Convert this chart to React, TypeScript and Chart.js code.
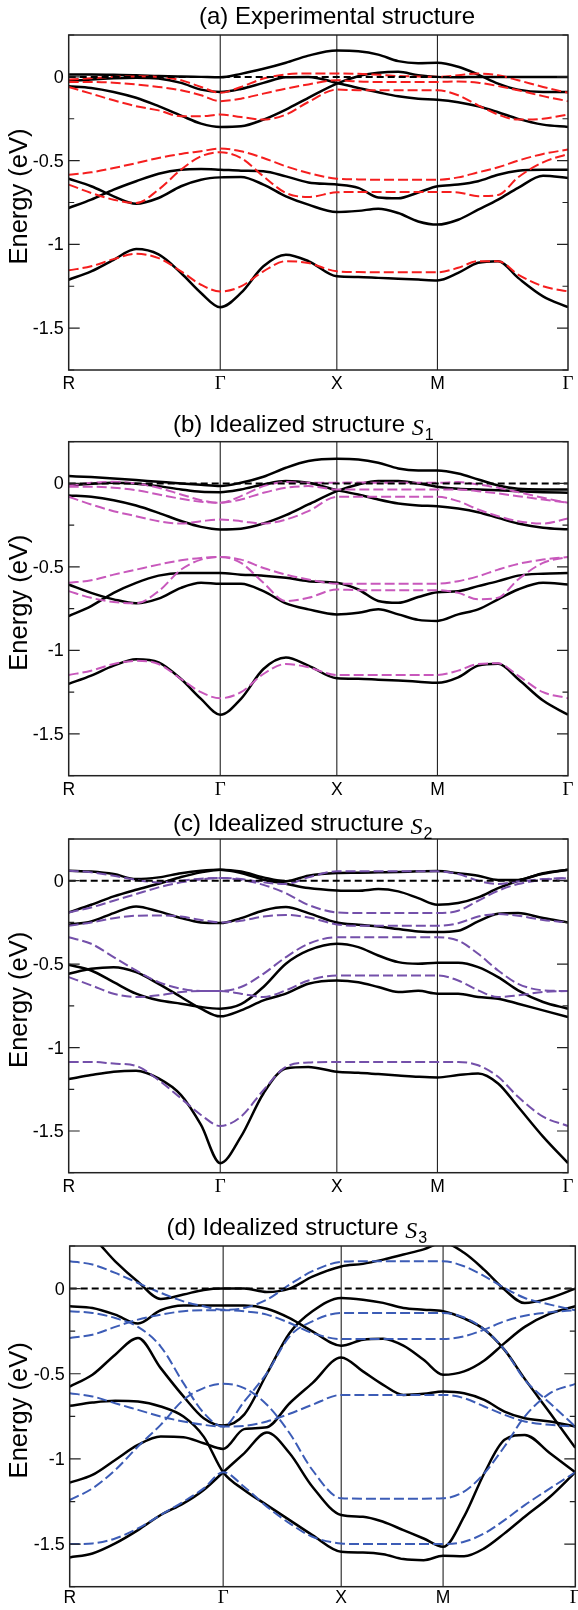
import React, { useEffect, useRef } from "react";
import { Chart, registerables } from "chart.js";
Chart.register(...registerables);

// k-path sample positions (fraction of path length) and high-symmetry points
const K = [0, 0.045, 0.09, 0.135, 0.18, 0.225, 0.265, 0.3035, 0.345, 0.39, 0.435, 0.48, 0.537, 0.58, 0.62, 0.66, 0.70, 0.7385, 0.78, 0.82, 0.86, 0.90, 0.95, 1.0];
const K_TICKS = [0, 0.3035, 0.537, 0.7385, 1];
const K_LABELS = ["R", "Γ", "X", "M", "Γ"];
const Y_MAJOR = [0, -0.5, -1, -1.5];
const Y_LABELS = ["0", "-0.5", "-1", "-1.5"];
const Y_MINOR = [0.25, -0.25, -0.75, -1.25, -1.75];
const FERMI_X = [0, 1];
const FERMI_Y = [0, 0];

// (a) Experimental structure
const A_BLK1 = [0.014, 0.014, 0.012, 0.01, 0.005, 0.002, 0.0, -0.002, 0.018, 0.048, 0.084, 0.127, 0.157, 0.153, 0.133, 0.094, 0.082, 0.084, 0.06, 0.014, -0.04, -0.076, -0.09, -0.09];
const A_BLK2 = [-0.025, -0.015, -0.008, -0.005, -0.01, -0.036, -0.076, -0.09, -0.072, -0.036, -0.002, 0.0, -0.036, -0.066, -0.092, -0.116, -0.13, -0.136, -0.151, -0.175, -0.211, -0.251, -0.285, -0.299];
const A_BLK3 = [-0.056, -0.066, -0.09, -0.125, -0.175, -0.231, -0.279, -0.299, -0.295, -0.255, -0.195, -0.125, -0.04, 0.004, 0.024, 0.03, 0.01, 0.0, -0.002, 0.0, 0.0, 0.0, 0.0, 0.0];
const A_BLK4 = [-0.608, -0.653, -0.713, -0.757, -0.723, -0.653, -0.614, -0.6, -0.598, -0.643, -0.713, -0.763, -0.807, -0.8, -0.787, -0.813, -0.863, -0.882, -0.853, -0.793, -0.733, -0.663, -0.59, -0.604];
const A_BLK5 = [-0.783, -0.733, -0.673, -0.623, -0.578, -0.554, -0.55, -0.554, -0.56, -0.564, -0.594, -0.63, -0.643, -0.663, -0.72, -0.725, -0.69, -0.653, -0.643, -0.623, -0.584, -0.56, -0.554, -0.554];
const A_BLK6 = [-1.211, -1.161, -1.092, -1.028, -1.06, -1.171, -1.29, -1.375, -1.29, -1.131, -1.062, -1.1, -1.191, -1.195, -1.2, -1.205, -1.21, -1.215, -1.17, -1.11, -1.1, -1.2, -1.31, -1.375];
const A_DFT1 = [-0.016, -0.008, 0.0, 0.003, 0.0, -0.02, -0.06, -0.095, -0.06, -0.01, 0.015, 0.02, 0.02, 0.018, 0.012, 0.005, 0.002, 0.0, 0.01, 0.02, 0.01, -0.02, -0.06, -0.095];
const A_DFT2 = [-0.03, -0.03, -0.035, -0.045, -0.06, -0.08, -0.11, -0.145, -0.13, -0.1, -0.07, -0.045, -0.02, -0.028, -0.03, -0.03, -0.03, -0.03, -0.028, -0.035, -0.055, -0.08, -0.115, -0.145];
const A_DFT3 = [-0.06, -0.1, -0.14, -0.175, -0.2, -0.235, -0.235, -0.225, -0.24, -0.255, -0.225, -0.15, -0.076, -0.08, -0.08, -0.08, -0.08, -0.08, -0.11, -0.17, -0.225, -0.255, -0.25, -0.225];
const A_DFT4 = [-0.584, -0.57, -0.544, -0.515, -0.484, -0.46, -0.444, -0.428, -0.444, -0.484, -0.534, -0.574, -0.608, -0.612, -0.614, -0.614, -0.614, -0.614, -0.6, -0.57, -0.54, -0.5, -0.46, -0.434];
const A_DFT5 = [-0.643, -0.693, -0.733, -0.753, -0.673, -0.554, -0.474, -0.45, -0.484, -0.594, -0.693, -0.717, -0.689, -0.687, -0.687, -0.687, -0.687, -0.687, -0.69, -0.712, -0.705, -0.6, -0.51, -0.46];
const A_DFT6 = [-1.155, -1.131, -1.088, -1.056, -1.082, -1.161, -1.241, -1.281, -1.251, -1.161, -1.1, -1.111, -1.161, -1.165, -1.167, -1.167, -1.167, -1.167, -1.14, -1.1, -1.1, -1.18, -1.25, -1.281];

// (b) Idealized structure S1
const B_BLK1 = [0.044, 0.038, 0.03, 0.02, 0.01, 0.0, -0.008, -0.015, 0.004, 0.04, 0.094, 0.134, 0.148, 0.144, 0.124, 0.09, 0.078, 0.078, 0.06, 0.024, -0.012, -0.032, -0.036, -0.036];
const B_BLK2 = [-0.012, -0.002, 0.004, -0.002, -0.016, -0.036, -0.05, -0.052, -0.036, -0.006, 0.014, 0.004, -0.04, -0.066, -0.096, -0.12, -0.132, -0.136, -0.15, -0.172, -0.206, -0.24, -0.265, -0.275];
const B_BLK3 = [-0.072, -0.08, -0.1, -0.132, -0.176, -0.225, -0.26, -0.275, -0.271, -0.24, -0.19, -0.126, -0.046, -0.006, 0.014, 0.014, 0.0, -0.02, -0.032, -0.036, -0.04, -0.046, -0.052, -0.056];
const B_BLK4 = [-0.605, -0.655, -0.694, -0.718, -0.69, -0.625, -0.595, -0.601, -0.6, -0.645, -0.718, -0.754, -0.784, -0.774, -0.754, -0.784, -0.817, -0.823, -0.784, -0.754, -0.694, -0.635, -0.595, -0.605];
const B_BLK5 = [-0.794, -0.734, -0.655, -0.595, -0.552, -0.536, -0.536, -0.536, -0.546, -0.552, -0.565, -0.585, -0.595, -0.635, -0.704, -0.715, -0.68, -0.651, -0.645, -0.615, -0.585, -0.552, -0.54, -0.536];
const B_BLK6 = [-1.2, -1.151, -1.091, -1.052, -1.071, -1.171, -1.29, -1.385, -1.29, -1.111, -1.042, -1.091, -1.167, -1.17, -1.175, -1.18, -1.187, -1.194, -1.161, -1.091, -1.08, -1.171, -1.3, -1.385];
const B_DFT1 = [-0.012, 0.004, 0.01, 0.0, -0.026, -0.066, -0.1, -0.116, -0.076, -0.016, 0.008, 0.004, 0.004, 0.006, 0.004, 0.004, 0.004, 0.004, 0.008, -0.006, -0.026, -0.052, -0.086, -0.116];
const B_DFT2 = [-0.02, -0.02, -0.026, -0.04, -0.066, -0.092, -0.11, -0.116, -0.096, -0.056, -0.026, -0.016, -0.036, -0.036, -0.036, -0.036, -0.036, -0.036, -0.036, -0.046, -0.06, -0.076, -0.096, -0.116];
const B_DFT3 = [-0.08, -0.126, -0.166, -0.196, -0.226, -0.24, -0.226, -0.216, -0.226, -0.24, -0.216, -0.166, -0.08, -0.08, -0.08, -0.08, -0.08, -0.08, -0.106, -0.156, -0.196, -0.226, -0.24, -0.21];
const B_DFT4 = [-0.595, -0.58, -0.546, -0.516, -0.486, -0.46, -0.446, -0.44, -0.456, -0.506, -0.546, -0.575, -0.6, -0.6, -0.6, -0.6, -0.6, -0.6, -0.585, -0.556, -0.516, -0.482, -0.456, -0.44];
const B_DFT5 = [-0.645, -0.685, -0.71, -0.718, -0.645, -0.516, -0.456, -0.44, -0.476, -0.595, -0.704, -0.685, -0.635, -0.639, -0.639, -0.639, -0.639, -0.639, -0.655, -0.694, -0.685, -0.575, -0.476, -0.44];
const B_DFT6 = [-1.147, -1.121, -1.081, -1.062, -1.081, -1.171, -1.25, -1.286, -1.25, -1.141, -1.081, -1.101, -1.147, -1.147, -1.147, -1.147, -1.147, -1.147, -1.121, -1.081, -1.077, -1.151, -1.25, -1.286];

// (c) Idealized structure S2
const C_BLK1 = [0.06, 0.055, 0.04, 0.01, 0.02, 0.045, 0.06, 0.066, 0.046, 0.006, -0.018, -0.044, -0.058, -0.06, -0.05, -0.064, -0.104, -0.144, -0.134, -0.1, -0.045, 0.0, 0.042, 0.066];
const C_BLK2 = [-0.19, -0.144, -0.094, -0.054, -0.018, 0.022, 0.05, 0.066, 0.055, 0.02, -0.003, 0.03, 0.046, 0.048, 0.05, 0.052, 0.056, 0.058, 0.045, 0.03, 0.005, 0.005, 0.045, 0.066];
const C_BLK3 = [-0.264, -0.244, -0.194, -0.154, -0.184, -0.224, -0.25, -0.254, -0.224, -0.178, -0.158, -0.194, -0.25, -0.264, -0.274, -0.29, -0.304, -0.308, -0.3, -0.244, -0.198, -0.194, -0.224, -0.25];
const C_BLK4 = [-0.504, -0.538, -0.608, -0.677, -0.717, -0.737, -0.757, -0.767, -0.74, -0.637, -0.498, -0.418, -0.378, -0.398, -0.448, -0.488, -0.498, -0.492, -0.492, -0.518, -0.578, -0.657, -0.727, -0.767];
const C_BLK5 = [-0.558, -0.528, -0.518, -0.548, -0.618, -0.697, -0.767, -0.813, -0.777, -0.717, -0.677, -0.618, -0.598, -0.608, -0.637, -0.667, -0.66, -0.677, -0.677, -0.697, -0.707, -0.737, -0.777, -0.817];
const C_BLK6 = [-1.189, -1.165, -1.145, -1.139, -1.185, -1.285, -1.464, -1.693, -1.534, -1.275, -1.125, -1.116, -1.145, -1.151, -1.159, -1.167, -1.175, -1.179, -1.165, -1.155, -1.215, -1.355, -1.534, -1.693];
const C_DFT1 = [0.06, 0.05, 0.03, 0.005, -0.01, 0.0, 0.012, 0.016, 0.01, -0.01, -0.02, 0.02, 0.056, 0.056, 0.056, 0.056, 0.056, 0.056, 0.04, 0.0, -0.02, -0.005, 0.01, 0.016];
const C_DFT2 = [-0.19, -0.16, -0.12, -0.08, -0.04, -0.01, 0.008, 0.016, 0.005, -0.025, -0.075, -0.145, -0.19, -0.194, -0.194, -0.194, -0.194, -0.194, -0.18, -0.12, -0.06, -0.02, 0.005, 0.016];
const C_DFT3 = [-0.27, -0.25, -0.225, -0.21, -0.208, -0.215, -0.235, -0.25, -0.24, -0.215, -0.205, -0.22, -0.262, -0.27, -0.27, -0.27, -0.27, -0.27, -0.255, -0.215, -0.2, -0.21, -0.235, -0.25];
const C_DFT4 = [-0.339, -0.378, -0.458, -0.538, -0.608, -0.647, -0.661, -0.661, -0.637, -0.558, -0.458, -0.378, -0.339, -0.339, -0.339, -0.339, -0.339, -0.339, -0.359, -0.438, -0.538, -0.618, -0.657, -0.661];
const C_DFT5 = [-0.578, -0.627, -0.677, -0.697, -0.687, -0.667, -0.661, -0.661, -0.677, -0.697, -0.657, -0.598, -0.568, -0.568, -0.568, -0.568, -0.568, -0.568, -0.598, -0.657, -0.697, -0.687, -0.667, -0.661];
const C_DFT6 = [-1.086, -1.086, -1.096, -1.11, -1.195, -1.305, -1.404, -1.47, -1.414, -1.255, -1.116, -1.09, -1.086, -1.086, -1.086, -1.086, -1.086, -1.086, -1.086, -1.106, -1.175, -1.295, -1.414, -1.47];

// (d) Idealized structure S3
const D_BLK1 = [0.37, 0.3, 0.16, 0.04, -0.061, -0.035, -0.008, 0.0, 0.0, -0.02, 0.0, 0.07, 0.13, 0.145, 0.17, 0.2, 0.23, 0.27, 0.21, 0.11, -0.006, -0.085, -0.055, 0.0];
const D_BLK2 = [-0.104, -0.114, -0.153, -0.205, -0.127, -0.1, -0.1, -0.1, -0.1, -0.118, -0.173, -0.251, -0.335, -0.3, -0.294, -0.335, -0.418, -0.506, -0.486, -0.422, -0.32, -0.225, -0.147, -0.104];
const D_BLK3 = [-0.575, -0.506, -0.388, -0.29, -0.467, -0.633, -0.761, -0.804, -0.74, -0.5, -0.261, -0.133, -0.055, -0.065, -0.084, -0.114, -0.124, -0.133, -0.175, -0.24, -0.36, -0.53, -0.73, -0.935];
const D_BLK4 = [-0.688, -0.669, -0.659, -0.663, -0.692, -0.751, -0.869, -1.078, -1.182, -1.271, -1.359, -1.447, -1.545, -1.549, -1.559, -1.588, -1.594, -1.569, -1.571, -1.525, -1.437, -1.339, -1.222, -1.078];
const D_BLK5 = [-1.139, -1.094, -1.006, -0.918, -0.869, -0.873, -0.908, -0.941, -0.825, -0.814, -0.673, -0.555, -0.404, -0.486, -0.565, -0.624, -0.618, -0.604, -0.614, -0.653, -0.722, -0.761, -0.78, -0.81];
const D_BLK6 = [-1.578, -1.555, -1.496, -1.418, -1.329, -1.261, -1.182, -1.078, -0.967, -0.845, -0.967, -1.163, -1.329, -1.339, -1.369, -1.418, -1.467, -1.516, -1.339, -1.084, -0.888, -0.859, -0.967, -1.078];
const D_DFT1 = [0.161, 0.141, 0.092, 0.033, -0.025, -0.075, -0.104, -0.124, -0.114, -0.065, 0.024, 0.102, 0.157, 0.161, 0.161, 0.161, 0.161, 0.161, 0.131, 0.073, 0.004, -0.055, -0.094, -0.127];
const D_DFT2 = [-0.133, -0.143, -0.173, -0.225, -0.34, -0.555, -0.73, -0.81, -0.663, -0.496, -0.28, -0.192, -0.143, -0.143, -0.143, -0.143, -0.143, -0.143, -0.17, -0.24, -0.359, -0.535, -0.673, -0.81];
const D_DFT3 = [-0.29, -0.271, -0.225, -0.182, -0.153, -0.133, -0.127, -0.127, -0.133, -0.153, -0.202, -0.261, -0.296, -0.296, -0.296, -0.296, -0.296, -0.296, -0.28, -0.241, -0.192, -0.159, -0.139, -0.127];
const D_DFT4 = [-1.241, -1.173, -1.065, -0.927, -0.8, -0.653, -0.584, -0.559, -0.584, -0.682, -0.849, -1.065, -1.231, -1.233, -1.233, -1.233, -1.233, -1.231, -1.192, -1.084, -0.927, -0.751, -0.614, -0.559];
const D_DFT5 = [-0.614, -0.633, -0.673, -0.712, -0.751, -0.78, -0.8, -0.81, -0.806, -0.78, -0.735, -0.682, -0.624, -0.624, -0.624, -0.624, -0.624, -0.624, -0.643, -0.692, -0.741, -0.78, -0.8, -0.81];
const D_DFT6 = [-1.5, -1.496, -1.467, -1.408, -1.329, -1.251, -1.173, -1.078, -1.163, -1.28, -1.378, -1.457, -1.496, -1.5, -1.5, -1.5, -1.5, -1.5, -1.486, -1.437, -1.359, -1.271, -1.173, -1.078];

const FONT = '"Liberation Sans", Arial, Helvetica, sans-serif';
const SERIF = '"Liberation Serif", "Times New Roman", serif';

const PANELS = [
  { title: "(a) Experimental structure", sub: "", color: "rgb(245,30,30)",
    black: [A_BLK1, A_BLK2, A_BLK3, A_BLK4, A_BLK5, A_BLK6], dft: [A_DFT1, A_DFT2, A_DFT3, A_DFT4, A_DFT5, A_DFT6],
    top: 0, height: 400, pad: { left: 68.7, right: 10, top: 35, bottom: 30 }, titleX: 199, titleY: 24, xLabGap: 19 },
  { title: "(b) Idealized structure ", sub: "1", color: "rgb(200,88,188)",
    black: [B_BLK1, B_BLK2, B_BLK3, B_BLK4, B_BLK5, B_BLK6], dft: [B_DFT1, B_DFT2, B_DFT3, B_DFT4, B_DFT5, B_DFT6],
    top: 400, height: 400, pad: { left: 68.7, right: 10, top: 41.7, bottom: 24.3 }, titleX: 173, titleY: 31.5, xLabGap: 19 },
  { title: "(c) Idealized structure ", sub: "2", color: "rgb(116,80,170)",
    black: [C_BLK1, C_BLK2, C_BLK3, C_BLK4, C_BLK5, C_BLK6], dft: [C_DFT1, C_DFT2, C_DFT3, C_DFT4, C_DFT5, C_DFT6],
    top: 800, height: 400, pad: { left: 68.7, right: 10, top: 39, bottom: 27.3 }, titleX: 173, titleY: 30.5, xLabGap: 19 },
  { title: "(d) Idealized structure ", sub: "3", color: "rgb(60,92,182)",
    black: [D_BLK1, D_BLK2, D_BLK3, D_BLK4, D_BLK5, D_BLK6], dft: [D_DFT1, D_DFT2, D_DFT3, D_DFT4, D_DFT5, D_DFT6],
    top: 1200, height: 410, pad: { left: 69.7, right: 2.7, top: 46, bottom: 23.3 }, titleX: 166.6, titleY: 35, xLabGap: 16.5 },
];

const decor = {
  id: "decor",
  beforeDatasetsDraw(chart: any) {
    const { ctx, chartArea: ca, scales } = chart;
    ctx.save();
    ctx.strokeStyle = "#222";
    ctx.lineWidth = 1.1;
    for (const k of K_TICKS.slice(1, -1)) {
      const px = scales.x.getPixelForValue(k);
      ctx.beginPath();
      ctx.moveTo(px, ca.top);
      ctx.lineTo(px, ca.bottom);
      ctx.stroke();
    }
    ctx.restore();
  },
  afterDatasetsDraw(chart: any, _args: any, o: any) {
    const { ctx, chartArea: ca, scales } = chart;
    const ys = scales.y, xs = scales.x;
    ctx.save();
    ctx.strokeStyle = "#222";
    ctx.lineWidth = 1.5;
    ctx.strokeRect(ca.left, ca.top, ca.right - ca.left, ca.bottom - ca.top);
    const tick = (v: number, len: number) => {
      const py = ys.getPixelForValue(v);
      ctx.beginPath();
      ctx.moveTo(ca.left, py); ctx.lineTo(ca.left + len, py);
      ctx.moveTo(ca.right - len, py); ctx.lineTo(ca.right, py);
      ctx.stroke();
    };
    ctx.lineWidth = 1.2;
    Y_MAJOR.forEach((v) => tick(v, 11));
    Y_MINOR.forEach((v) => tick(v, 5.5));

    ctx.fillStyle = "#000";
    ctx.font = `18px ${FONT}`;
    ctx.textAlign = "right";
    ctx.textBaseline = "middle";
    Y_MAJOR.forEach((v, i) => ctx.fillText(Y_LABELS[i], ca.left - 5, ys.getPixelForValue(v) + 1));

    ctx.textAlign = "center";
    ctx.textBaseline = "alphabetic";
    K_TICKS.forEach((k, i) => {
      const lab = K_LABELS[i];
      ctx.font = lab === "Γ" ? `19px ${SERIF}` : `17.5px ${FONT}`;
      ctx.fillText(lab, xs.getPixelForValue(k), ca.bottom + o.xLabGap);
    });

    ctx.save();
    ctx.translate(27, (ca.top + ca.bottom) / 2 - 6);
    ctx.rotate(-Math.PI / 2);
    ctx.font = `25.5px ${FONT}`;
    ctx.textAlign = "center";
    ctx.fillText("Energy (eV)", 0, 0);
    ctx.restore();

    ctx.textAlign = "left";
    ctx.font = `24px ${FONT}`;
    ctx.fillText(o.title, o.titleX, o.titleY);
    if (o.sub) {
      const w = ctx.measureText(o.title).width;
      ctx.font = `italic 24px ${SERIF}`;
      ctx.fillText("S", o.titleX + w, o.titleY + 3);
      const ws = ctx.measureText("S").width;
      ctx.font = `16px ${FONT}`;
      ctx.fillText(o.sub, o.titleX + w + ws + 1, o.titleY + 8);
    }
    ctx.restore();
  },
};

function toPoints(vals: number[]) {
  return K.map((k, i) => ({ x: k, y: vals[i] }));
}

function Panel({ p }: { p: (typeof PANELS)[number] }) {
  const ref = useRef<HTMLCanvasElement>(null);
  useEffect(() => {
    if (!ref.current) return;
    const datasets: any[] = [];
    datasets.push({
      data: FERMI_X.map((x, i) => ({ x, y: FERMI_Y[i] })),
      borderColor: "#000", borderWidth: 2, borderDash: [7, 4],
    });
    p.dft.forEach((b) => datasets.push({ data: toPoints(b), borderColor: p.color, borderWidth: 2, borderDash: [10, 4] }));
    p.black.forEach((b) => datasets.push({ data: toPoints(b), borderColor: "#000", borderWidth: 2.5 }));
    const chart = new Chart(ref.current, {
      type: "line",
      data: { datasets },
      options: {
        animation: false,
        responsive: false,
        devicePixelRatio: 1,
        events: [],
        layout: { padding: p.pad },
        elements: { point: { radius: 0 }, line: { cubicInterpolationMode: "monotone", fill: false } },
        scales: {
          x: { type: "linear", min: 0, max: 1, display: false },
          y: { type: "linear", min: -1.75, max: 0.25, display: false },
        },
        plugins: {
          legend: { display: false },
          tooltip: { enabled: false },
          decor: { title: p.title, sub: p.sub, titleX: p.titleX, titleY: p.titleY, xLabGap: p.xLabGap },
        } as any,
      },
      plugins: [decor],
    });
    return () => chart.destroy();
  }, [p]);
  return (
    <canvas
      ref={ref}
      width={578}
      height={p.height}
      style={{ position: "absolute", left: 0, top: p.top, width: 578, height: p.height, display: "block" }}
    />
  );
}

export default function App() {
  return (
    <div style={{ position: "absolute", left: 0, top: 0, width: 578, height: 1610, background: "#fff" }}>
      {PANELS.map((p, i) => (
        <Panel key={i} p={p} />
      ))}
    </div>
  );
}
